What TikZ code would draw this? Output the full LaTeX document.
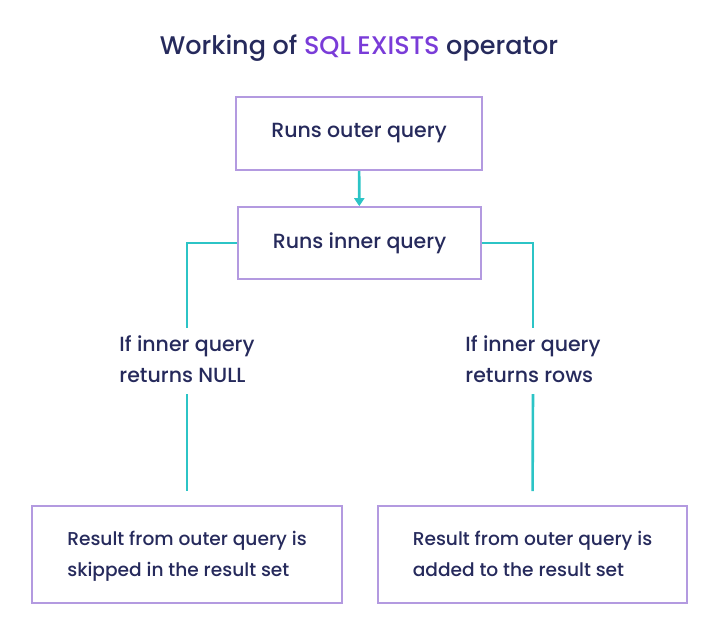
\documentclass[tikz,border=0pt]{standalone}
\usepackage{fontspec}
\setmainfont{Poppins}[UprightFont=* Medium]
\usetikzlibrary{arrows.meta}

\definecolor{ink}{HTML}{262A5C}
\definecolor{sqlpurple}{HTML}{7A3CD8}
\definecolor{boxline}{HTML}{B39AE0}
\definecolor{teal}{HTML}{2CC4C6}

\begin{document}
\begin{tikzpicture}[x=1pt, y=-1pt, line join=miter,
    box/.style={draw=boxline, line width=1.6pt, text=ink, inner sep=0pt,
                font=\fontsize{20.5}{31}\selectfont},
    result/.style={box, align=left, minimum height=97pt,
                   font=\fontsize{18.6}{31}\selectfont},
    cond/.style={text=ink, align=left, inner sep=0pt, minimum height=66pt,
                 font=\fontsize{20.5}{31}\selectfont},
    link/.style={draw=teal, line width=2.6pt},
    >={Triangle[length=8pt, width=10pt]}]
    \useasboundingbox (0,0) rectangle (720,639);

    \node[text=ink, font=\fontsize{25.5}{28}\selectfont] (title) at (359,48)
        {Working of \textcolor{sqlpurple}{SQL EXISTS} operator};

    \node[box, minimum width=246pt, minimum height=73pt] (outer) at (359,133.5) {Runs outer query};
    \node[box, minimum width=243pt, minimum height=72pt] (inner) at (359.5,243) {Runs inner query};

    \node[cond] (null) at (187,361) {If inner query\strut\\returns NULL\strut};
    \node[cond] (rows) at (533,361) {If inner query\strut\\returns rows\strut};

    \node[result, minimum width=310pt] (skip) at (187,554.5)
        {Result from outer query is\strut\\skipped in the result set\strut};
    \node[result, minimum width=309pt] (add) at (532.5,554.5)
        {Result from outer query is\strut\\added to the result set\strut};

    \draw[link, ->] (outer) -- (inner);
    \draw[link] (inner.west) -| (null.north);
    \draw[link] (inner.east) -| (rows.north);
    \draw[link, shorten >=14pt] (null.south) -- (skip.north);
    \draw[link, shorten >=14pt] (rows.south) -- (add.north);
\end{tikzpicture}
\end{document}
